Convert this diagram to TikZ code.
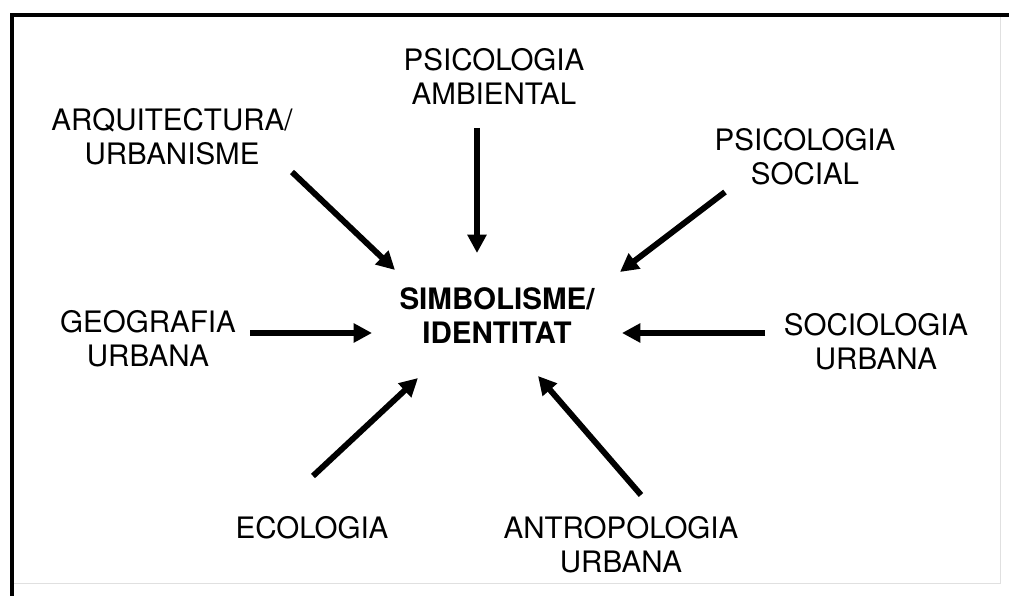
\documentclass[tikz,border=0pt]{standalone}
\usepackage{fontspec}
\setmainfont{TeX Gyre Heros}
\usetikzlibrary{arrows.meta}

\tikzstyle{field} = [align=center, inner sep=2pt, font=\fontsize{21}{24.2}\selectfont]
\tikzstyle{core} = [align=center, inner sep=2pt, font=\fontsize{21}{24.2}\selectfont\bfseries]
\tikzstyle{arrow} = [line width=4.2pt, -{Triangle[length=13pt,width=13pt]}]
\tikzstyle{frame} = [line width=2.2pt, black]

\begin{document}
\begin{tikzpicture}[x=0.025cm, y=-0.025cm]
\useasboundingbox (0,0) rectangle (1009,596);

% frame
\draw [black!12, line width=0.6pt] (1000,15) -- (1000,583) -- (12,583);
\draw [frame] (1009,15) -- (12,15) -- (12,596);

\node (simb) [core] at (497,316) {SIMBOLISME/\\IDENTITAT};

\node (psiamb) [field] at (494,76) {PSICOLOGIA\\AMBIENTAL};
\node (arq) [field] at (172,137) {ARQUITECTURA/\\URBANISME};
\node (psisoc) [field] at (805,157) {PSICOLOGIA\\SOCIAL};
\node (geo) [field] at (148,339) {GEOGRAFIA\\URBANA};
\node (soc) [field] at (876,342) {SOCIOLOGIA\\URBANA};
\node (eco) [field] at (312,528) {ECOLOGIA};
\node (antro) [field] at (621,545) {ANTROPOLOGIA\\URBANA};

\draw [arrow] ([shift={(-17,52)}]psiamb.center) -- ([shift={(-20,-63)}]simb.center);
\draw [arrow] ([shift={(120,35)}]arq.center) -- ([shift={(-102,-46)}]simb.center);
\draw [arrow] ([shift={(-80,35)}]psisoc.center) -- ([shift={(123,-44)}]simb.center);
\draw [arrow] ([shift={(102,-6)}]geo.center) -- ([shift={(-125,17)}]simb.center);
\draw [arrow] ([shift={(-111,-9)}]soc.center) -- ([shift={(125,17)}]simb.center);
\draw [arrow] ([shift={(1,-52)}]eco.center) -- ([shift={(-79,62)}]simb.center);
\draw [arrow] ([shift={(20,-50)}]antro.center) -- ([shift={(41,60)}]simb.center);

\end{tikzpicture}
\end{document}
